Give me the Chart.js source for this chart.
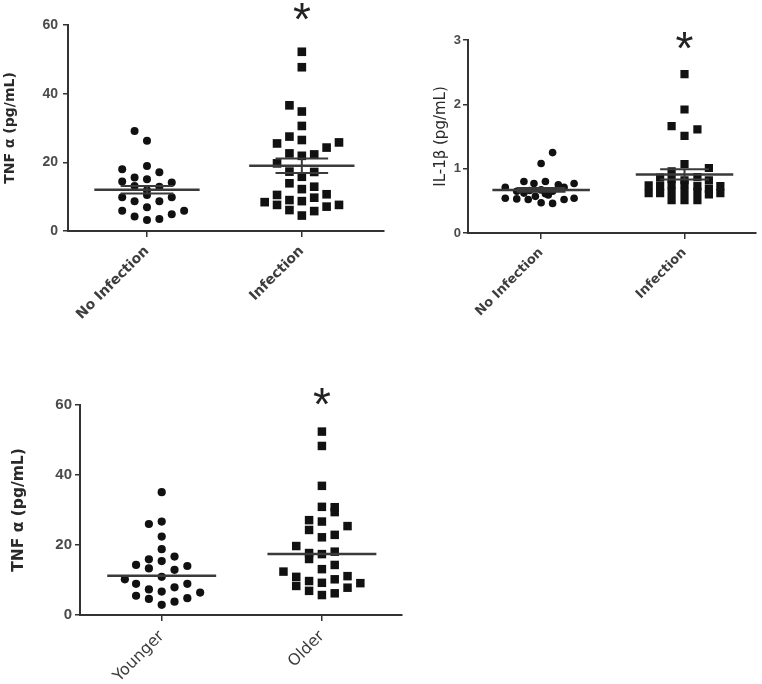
<!DOCTYPE html>
<html>
<head>
<meta charset="utf-8">
<script src="https://cdn.jsdelivr.net/npm/chart.js@4.4.0/dist/chart.umd.min.js"></script>
<style>
  body { margin: 0; background: #fff; width: 762px; height: 684px; position: relative; overflow: hidden; }
  canvas { position: absolute; }
</style>
</head>
<body>
<canvas id="tnfInfChart" width="390" height="331" style="left:0;top:0"></canvas>
<canvas id="ilInfChart" width="382" height="331" style="left:380px;top:0"></canvas>
<canvas id="tnfAgeChart" width="420" height="304" style="left:0;top:380px"></canvas>
<script>
'use strict';
const infGroups = ['No Infection', 'Infection'];
const ageGroups = ['Younger', 'Older'];

const tnfTicks = [0, 20, 40, 60];
const ilTicks = [0, 1, 2, 3];

// TNF alpha (pg/mL) - values and the sideways spread of each dot (in group units)
const tnfNoInf = [29.1, 26.3, 18.0, 18.9, 17.1, 15.6, 14.4, 15.1, 14.1, 13.1, 12.9, 11.9, 9.8, 8.7, 10.5, 8.7, 9.8, 5.9, 4.2, 6.9, 3.5, 4.9, 5.9, 3.2];
const tnfNoInfJit = [-0.08, 0, -0.16, 0, 0.08, -0.08, -0.16, 0, 0.16, -0.08, 0.08, 0, -0.16, -0.08, 0, 0.08, 0.16, -0.16, -0.08, 0, 0.08, 0.16, 0.24, 0];
const tnfInf = [52.2, 47.7, 36.6, 34.8, 30.6, 27.5, 25.5, 26.5, 24.3, 25.8, 22.6, 21.9, 22.3, 19.7, 17.3, 15.8, 17.2, 13.9, 12.2, 12.9, 8.4, 10.5, 7.6, 9.0, 6.1, 8.7, 4.5, 9.7, 5.8, 10.7, 7.1, 7.6];
const tnfInfJit = [0, 0, -0.08, 0, 0, -0.08, -0.16, 0, 0.16, 0.24, -0.08, 0, 0.08, -0.16, -0.08, 0, 0.08, -0.08, 0, 0.08, -0.24, -0.16, -0.16, -0.08, -0.08, 0, 0, 0.08, 0.08, 0.16, 0.16, 0.24];
const tnfInfMean = [12.0, 19.0];
const tnfInfSem = [1.1, 2.1];

// IL-1 beta (pg/mL)
const ilNoInf = [1.25, 1.08, 0.80, 0.77, 0.80, 0.75, 0.77, 0.71, 0.71, 0.65, 0.66, 0.67, 0.65, 0.62, 0.61, 0.54, 0.53, 0.52, 0.47, 0.46, 0.52, 0.54, 0.59, 0.57];
const ilNoInfJit = [0.08, 0, -0.12, -0.05, 0.03, 0.12, 0.23, -0.25, 0.16, -0.17, -0.08, 0, 0.08, -0.12, 0.03, -0.25, -0.17, -0.09, 0, 0.08, 0.16, 0.23, 0.05, -0.04];
const ilInf = [2.47, 1.92, 1.66, 1.61, 1.51, 1.07, 1.01, 0.96, 0.86, 0.84, 0.87, 0.82, 0.82, 0.74, 0.62, 0.73, 0.62, 0.75, 0.76, 0.73, 0.69, 0.60, 0.73, 0.62, 0.51, 0.51, 0.51, 0.64, 0.64, 0.64];
const ilInfJit = [0, 0, -0.09, 0.09, 0, 0, 0.17, -0.09, -0.17, -0.09, 0.09, 0.17, 0, -0.25, -0.25, -0.17, -0.17, -0.09, 0, 0.09, 0.17, 0.17, 0.25, 0.25, -0.09, 0, 0.09, 0, 0.09, -0.09];
const ilMean = [0.67, 0.91];
const ilSem = [0.03, 0.08];

// TNF alpha (pg/mL) by age
const tnfYoung = [35.1, 26.0, 26.7, 22.4, 18.8, 14.3, 15.9, 15.4, 16.7, 13.3, 12.9, 14.0, 10.2, 10.9, 8.9, 7.9, 8.9, 7.3, 6.7, 6.4, 5.5, 4.6, 3.8, 4.8, 2.9];
const tnfYoungJit = [0, -0.08, 0, 0, 0, -0.16, -0.08, 0, 0.08, -0.08, 0.08, 0.16, -0.23, 0, -0.16, 0.08, 0.16, -0.08, 0, 0.24, -0.16, -0.08, 0.08, 0.16, 0];
const tnfOld = [52.4, 48.3, 36.9, 30.9, 30.8, 29.4, 27.1, 24.3, 26.7, 25.4, 22.2, 22.9, 19.7, 17.7, 16.0, 17.4, 18.1, 13.1, 14.3, 12.4, 10.9, 8.3, 9.7, 6.9, 9.2, 10.2, 11.1, 7.8, 9.1, 6.2, 5.7];
const tnfOldJit = [0, 0, 0, 0, 0.08, 0.08, -0.08, -0.08, 0, 0.16, 0, 0.08, -0.16, -0.08, -0.08, 0, 0.08, 0, 0.08, -0.24, -0.16, -0.16, -0.08, -0.08, 0, 0.08, 0.16, 0.16, 0.24, 0.08, 0];
const ageMedian = [11.2, 17.4];

const starPlugin = {
  id: 'star',
  afterDraw(chart, args, opts) {
    let ctx = chart.ctx;
    let x = chart.scales.x.getPixelForValue(2);
    let y = chart.scales.y.getPixelForValue(opts.at);
    ctx.save();
    ctx.fillStyle = '#222';
    ctx.font = opts.size + 'px "Liberation Sans"';
    ctx.textAlign = 'center';
    ctx.textBaseline = 'alphabetic';
    ctx.fillText('*', x, y + opts.size * 0.52);
    ctx.restore();
  }
};

function spots(group, jit, vals) {
  return vals.map((v, i) => ({ x: group + jit[i], y: v }));
}

function lineSet(data, width) {
  return { data: data, showLine: true, borderColor: '#3a3a3a', borderWidth: width, pointRadius: 0, order: 0, clip: false };
}

function drawPanel(id, p) {
  let sets = [
    { data: spots(1, p.jit1, p.vals1), pointStyle: 'circle', pointRadius: p.dot, backgroundColor: '#111', borderWidth: 0, order: 1 },
    { data: spots(2, p.jit2, p.vals2), pointStyle: 'rect', pointRadius: p.box, backgroundColor: '#111', borderWidth: 0, order: 1 }
  ];
  for (let g = 0; g < 2; g++) {
    let x = g + 1;
    let m = p.mid[g];
    sets.push(lineSet([{ x: x - 0.34, y: m }, { x: x + 0.34, y: m }], 2.5));
    if (p.sem) {
      let lo = m - p.sem[g];
      let hi = m + p.sem[g];
      sets.push(lineSet([{ x: x - 0.17, y: hi }, { x: x + 0.17, y: hi }], 2));
      sets.push(lineSet([{ x: x - 0.17, y: lo }, { x: x + 0.17, y: lo }], 2));
      sets.push(lineSet([{ x: x, y: lo }, { x: x, y: hi }], 2));
    }
  }

  new Chart(document.getElementById(id), {
    type: 'scatter',
    data: { datasets: sets },
    options: {
      responsive: false,
      animation: false,
      devicePixelRatio: 1,
      layout: { padding: p.pad },
      plugins: {
        legend: { display: false },
        tooltip: { enabled: false },
        star: { at: p.starAt, size: 46 }
      },
      scales: {
        x: {
          type: 'linear',
          min: 0.49,
          max: p.xMax,
          afterBuildTicks: s => { s.ticks = [{ value: 1 }, { value: 2 }]; },
          afterFit: s => { s.height = p.xHeight; },
          ticks: {
            autoSkip: false, minRotation: 45, maxRotation: 45, padding: 6,
            color: '#3d3d3d', font: p.xFont,
            callback: v => p.groups[v - 1]
          },
          grid: { drawOnChartArea: false, tickLength: 6, color: '#333', lineWidth: 1.5 },
          border: { color: '#333', width: 2 }
        },
        y: {
          min: p.ticks[0],
          max: p.ticks[p.ticks.length - 1],
          afterBuildTicks: s => { s.ticks = p.ticks.map(v => ({ value: v })); },
          afterFit: s => { s.width = p.yWidth; },
          ticks: { padding: p.yPad, color: '#4a4a4a', font: p.yFont },
          grid: { drawOnChartArea: false, tickLength: 5, color: '#333', lineWidth: 1.5 },
          border: { color: '#333', width: 2 },
          title: { display: true, text: p.title, color: '#2a2a2a', font: p.titleFont, padding: { top: p.titlePad, bottom: 0 } }
        }
      }
    },
    plugins: [starPlugin]
  });
}

drawPanel('tnfInfChart', {
  groups: infGroups, ticks: tnfTicks,
  vals1: tnfNoInf, jit1: tnfNoInfJit, vals2: tnfInf, jit2: tnfInfJit,
  mid: tnfInfMean, sem: tnfInfSem,
  dot: 4, box: 6.1, xMax: 2.53, xHeight: 100, yWidth: 68, yPad: 5,
  pad: { left: 0, top: 25, right: 4, bottom: 0 },
  xFont: { family: 'DejaVu Sans', size: 14, weight: 'bold' },
  yFont: { family: 'Liberation Sans', size: 14, weight: 'bold' },
  title: 'TNF \u03b1 (pg/mL)', titleFont: { family: 'DejaVu Sans', size: 14, weight: 'bold' }, titlePad: 2,
  starAt: 64.2
});

drawPanel('ilInfChart', {
  groups: infGroups, ticks: ilTicks,
  vals1: ilNoInf, jit1: ilNoInfJit, vals2: ilInf, jit2: ilInfJit,
  mid: ilMean, sem: ilSem,
  dot: 3.8, box: 5.8, xMax: 2.5, xHeight: 98, yWidth: 38, yPad: 2,
  pad: { left: 50, top: 40, right: 2, bottom: 0 },
  xFont: { family: 'DejaVu Sans', size: 13, weight: 'bold' },
  yFont: { family: 'Liberation Sans', size: 13, weight: 'bold' },
  title: 'IL-1\u03b2 (pg/mL)', titleFont: { family: 'DejaVu Sans', size: 15 }, titlePad: 2,
  starAt: 3.0
});

drawPanel('tnfAgeChart', {
  groups: ageGroups, ticks: tnfTicks,
  vals1: tnfYoung, jit1: tnfYoungJit, vals2: tnfOld, jit2: tnfOldJit,
  mid: ageMedian, sem: null,
  dot: 4.1, box: 6, xMax: 2.5, xHeight: 69, yWidth: 80, yPad: 3,
  pad: { left: 0, top: 25, right: 18, bottom: 0 },
  xFont: { family: 'DejaVu Sans', size: 16 },
  yFont: { family: 'Liberation Sans', size: 15, weight: 'bold' },
  title: 'TNF \u03b1 (pg/mL)', titleFont: { family: 'DejaVu Sans', size: 15.5, weight: '600' }, titlePad: 10,
  starAt: 62.5
});
</script>
</body>
</html>
